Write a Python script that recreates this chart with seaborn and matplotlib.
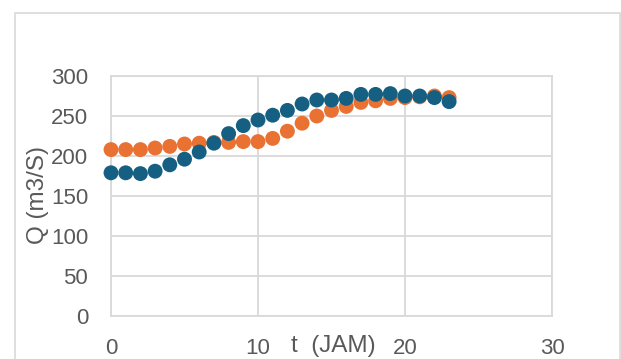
import numpy as np
import pandas as pd
import matplotlib
matplotlib.use("Agg")
import matplotlib.pyplot as plt
from matplotlib.patches import Rectangle
import seaborn as sns

# DATA
t_jam = list(range(24))
q_orange = [208, 208, 208, 210, 212, 215, 216, 217, 217, 218, 218, 222, 231, 241, 250,
            257, 262, 267, 269, 272, 273, 274, 275, 273]
q_blue = [179, 179, 178, 181, 189, 196, 205, 216, 228, 238, 245, 251, 257, 265, 270,
          270, 272, 277, 277, 278, 275, 275, 273, 268]
series_names = ["Q1", "Q2"]
x_ticks = [0, 10, 20, 30]
y_ticks = [0, 50, 100, 150, 200, 250, 300]

df = pd.DataFrame({
    "t": t_jam + t_jam,
    "Q": q_orange + q_blue,
    "seri": [series_names[0]] * len(t_jam) + [series_names[1]] * len(t_jam),
})

GRID = "#D9D9D9"
TXT = "#595959"
FS = 16
palette = {series_names[0]: "#E97132", series_names[1]: "#156082"}

sns.set_style("white")
plt.rcParams["font.family"] = ["Liberation Sans", "DejaVu Sans"]

fig = plt.figure(figsize=(6.21, 3.59), dpi=100)
ax = fig.add_axes([111 / 621, 43 / 359, 441 / 621, 240 / 359])

sns.scatterplot(data=df, x="t", y="Q", hue="seri", palette=palette, s=115,
                linewidth=0, legend=False, ax=ax, clip_on=False, zorder=3)

ax.set_xlim(0, 30)
ax.set_ylim(0, 300)
ax.set_xticks(x_ticks)
ax.set_yticks(y_ticks)
ax.grid(True, color=GRID, linewidth=1.3)
for sp in ax.spines.values():
    sp.set_color(GRID)
    sp.set_linewidth(1.3)
ax.tick_params(length=0, labelsize=FS, labelcolor=TXT)
ax.tick_params(axis="x", pad=15.5)
ax.tick_params(axis="y", pad=16.5)
ax.set_xlabel("")
ax.set_ylabel("")
ax.text(0.505, -0.125, "t  (JAM)", transform=ax.transAxes, ha="center", va="center",
        fontsize=17.5, color=TXT)
ax.text(-0.166, 0.505, "Q (m3/S)", transform=ax.transAxes, ha="center", va="center",
        rotation=90, fontsize=17.5, color=TXT)

# bingkai chart
fig.patches.append(Rectangle((15 / 621, -0.02), 605 / 621, 346 / 359 + 0.02,
                             transform=fig.transFigure, fill=False,
                             edgecolor=GRID, linewidth=1.2))

fig.savefig("out.png", dpi=100)
